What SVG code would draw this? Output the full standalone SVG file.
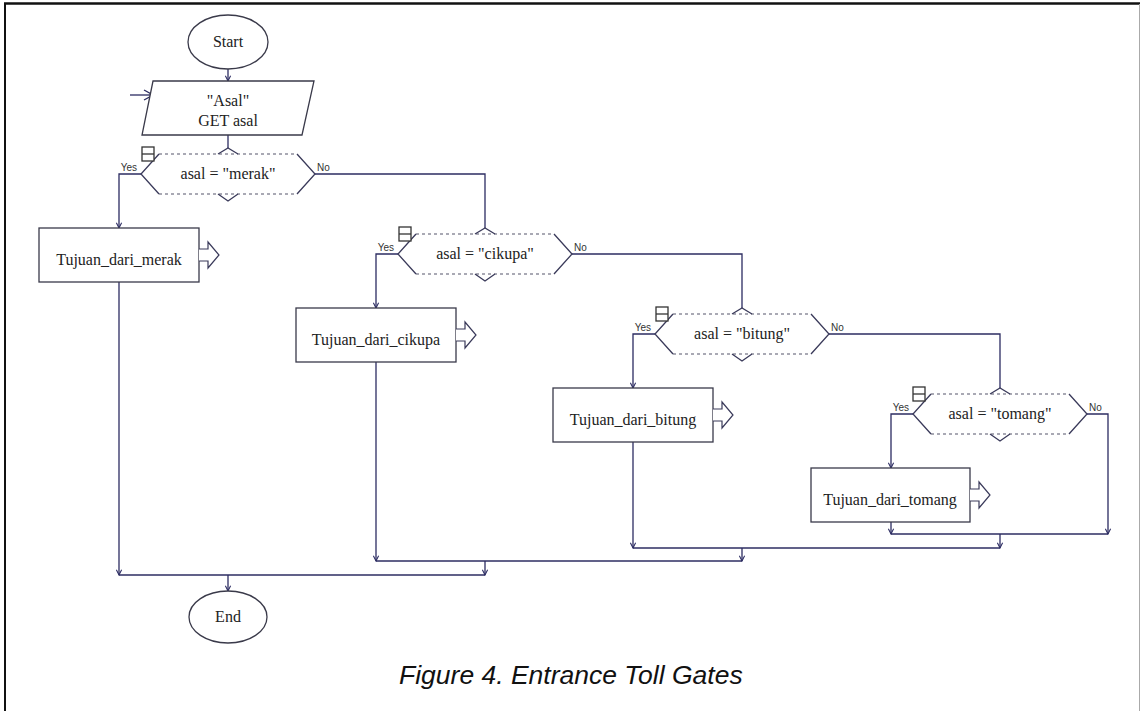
<svg xmlns="http://www.w3.org/2000/svg" width="1140" height="711" viewBox="0 0 1140 711">
<defs>
<style>
.sh{fill:#fff;stroke:#3a3a4a;stroke-width:1.3}
.ln{fill:none;stroke:#2c2c62;stroke-width:1.3}
.dot{fill:none;stroke:#55556a;stroke-width:1.2;stroke-dasharray:3 3}
.slant{fill:none;stroke:#3a3a5a;stroke-width:1.3}
.t{font-family:"Liberation Serif","Times New Roman",serif;font-size:16px;fill:#222;text-anchor:middle}
.yn{font-family:"Liberation Sans",Arial,sans-serif;font-size:10px;fill:#333}
.cap{font-family:"Liberation Sans",Arial,sans-serif;font-size:26.5px;font-style:italic;fill:#111}
</style>
<marker id="ah" viewBox="0 0 8 8" refX="7" refY="4" markerWidth="7" markerHeight="7" markerUnits="userSpaceOnUse" orient="auto">
<path d="M1,1 L7,4 L1,7" fill="none" stroke="#2c2c62" stroke-width="1.2"/>
</marker>
<marker id="ahb" viewBox="0 0 12 12" refX="11" refY="6" markerWidth="12" markerHeight="12" markerUnits="userSpaceOnUse" orient="auto">
<path d="M2,1 L11,6 L2,11" fill="none" stroke="#2c2c62" stroke-width="1.3"/>
</marker>
<g id="coll"><rect x="0" y="0" width="12" height="14" fill="#fff" stroke="#333" stroke-width="1.3"/><line x1="0" y1="7" x2="12" y2="7" stroke="#333" stroke-width="1.3"/></g>
<path id="blk" d="M0,-6 H9 V-13 L20,0 L9,13 V6 H0" fill="#fff" stroke="#3a3a5a" stroke-width="1.2"/>
</defs>
<rect width="1140" height="711" fill="#fff"/>
<!-- page border -->
<line x1="4" y1="3.5" x2="1140" y2="3.5" stroke="#111" stroke-width="2.5"/>
<line x1="5" y1="3" x2="5" y2="711" stroke="#111" stroke-width="2"/>
<line x1="1139.5" y1="4" x2="1139.5" y2="711" stroke="#aaa" stroke-width="1"/>

<g id="connectors">
<path class="ln" d="M228,69 V81" marker-end="url(#ah)"/>
<path class="ln" d="M130,95 H153" marker-end="url(#ahb)"/>
<path class="ln" d="M228,135 V148"/>
<!-- D1 -->
<path class="ln" d="M141,174 H119 V228" marker-end="url(#ah)"/>
<path class="ln" d="M315,174 H485 V228"/>
<!-- D2 -->
<path class="ln" d="M398,254 H376 V308" marker-end="url(#ah)"/>
<path class="ln" d="M572,254 H742 V308"/>
<!-- D3 -->
<path class="ln" d="M655,334 H633 V388" marker-end="url(#ah)"/>
<path class="ln" d="M829,334 H1000 V388"/>
<!-- D4 -->
<path class="ln" d="M913,414 H891 V468" marker-end="url(#ah)"/>
<path class="ln" d="M1087,414 H1108 V534" marker-end="url(#ah)"/>
<!-- merges -->
<path class="ln" d="M891,522 V534" marker-end="url(#ah)"/>
<path class="ln" d="M891,534 H1108"/>
<path class="ln" d="M1000,534 V548" marker-end="url(#ah)"/>
<path class="ln" d="M633,442 V548" marker-end="url(#ah)"/>
<path class="ln" d="M633,548 H1000"/>
<path class="ln" d="M742,548 V561" marker-end="url(#ah)"/>
<path class="ln" d="M376,362 V561" marker-end="url(#ah)"/>
<path class="ln" d="M376,561 H742"/>
<path class="ln" d="M485,561 V575" marker-end="url(#ah)"/>
<path class="ln" d="M119,282 V575" marker-end="url(#ah)"/>
<path class="ln" d="M119,575 H485"/>
<path class="ln" d="M228,575 V591" marker-end="url(#ah)"/>
</g>

<g id="start">
<ellipse class="sh" cx="228" cy="42" rx="40" ry="27"/>
<text class="t" x="228" y="47">Start</text>
</g>

<g id="input">
<polygon class="sh" points="153,81 314,81 302,135 142,135"/>
<text class="t" x="228" y="106">"Asal"</text>
<text class="t" x="228" y="126">GET asal</text>
</g>

<g id="dec-merak">
<path class="dot" d="M159,154 H297 M159,194 H297"/>
<path class="slant" d="M159,154 L141,174 L159,194 M297,154 L315,174 L297,194"/>
<polyline class="slant" points="218,154 228,148 238,154"/>
<polyline class="slant" points="218,194 228,201 238,194"/>
<use href="#coll" x="142" y="147"/>
<text class="yn" x="137" y="171" text-anchor="end">Yes</text>
<text class="yn" x="317" y="171">No</text>
<text class="t" x="228" y="179">asal = "merak"</text>
</g>

<g id="dec-cikupa">
<path class="dot" d="M416,234 H554 M416,274 H554"/>
<path class="slant" d="M416,234 L398,254 L416,274 M554,234 L572,254 L554,274"/>
<polyline class="slant" points="475,234 485,228 495,234"/>
<polyline class="slant" points="475,274 485,281 495,274"/>
<use href="#coll" x="399" y="227"/>
<text class="yn" x="394" y="251" text-anchor="end">Yes</text>
<text class="yn" x="574" y="251">No</text>
<text class="t" x="485" y="259">asal = "cikupa"</text>
</g>

<g id="dec-bitung">
<path class="dot" d="M673,314 H811 M673,354 H811"/>
<path class="slant" d="M673,314 L655,334 L673,354 M811,314 L829,334 L811,354"/>
<polyline class="slant" points="732,314 742,308 752,314"/>
<polyline class="slant" points="732,354 742,361 752,354"/>
<use href="#coll" x="656" y="307"/>
<text class="yn" x="651" y="331" text-anchor="end">Yes</text>
<text class="yn" x="831" y="331">No</text>
<text class="t" x="742" y="339">asal = "bitung"</text>
</g>

<g id="dec-tomang">
<path class="dot" d="M931,394 H1069 M931,434 H1069"/>
<path class="slant" d="M931,394 L913,414 L931,434 M1069,394 L1087,414 L1069,434"/>
<polyline class="slant" points="990,394 1000,388 1010,394"/>
<polyline class="slant" points="990,434 1000,441 1010,434"/>
<use href="#coll" x="913" y="387"/>
<text class="yn" x="909" y="411" text-anchor="end">Yes</text>
<text class="yn" x="1089" y="411">No</text>
<text class="t" x="1000" y="419">asal = "tomang"</text>
</g>

<g id="call-merak">
<rect class="sh" x="39" y="228" width="160" height="54"/>
<use href="#blk" x="199" y="255"/>
<text class="t" x="119" y="265">Tujuan_dari_merak</text>
</g>

<g id="call-cikupa">
<rect class="sh" x="296" y="308" width="160" height="54"/>
<use href="#blk" x="456" y="335"/>
<text class="t" x="376" y="345">Tujuan_dari_cikupa</text>
</g>

<g id="call-bitung">
<rect class="sh" x="553" y="388" width="160" height="54"/>
<use href="#blk" x="713" y="415"/>
<text class="t" x="633" y="425">Tujuan_dari_bitung</text>
</g>

<g id="call-tomang">
<rect class="sh" x="811" y="468" width="159" height="54"/>
<use href="#blk" x="970" y="495"/>
<text class="t" x="890" y="505">Tujuan_dari_tomang</text>
</g>

<g id="end">
<ellipse class="sh" cx="228" cy="617" rx="39" ry="26"/>
<text class="t" x="228" y="622">End</text>
</g>

<text class="cap" x="399" y="684">Figure 4. Entrance Toll Gates</text>
</svg>
